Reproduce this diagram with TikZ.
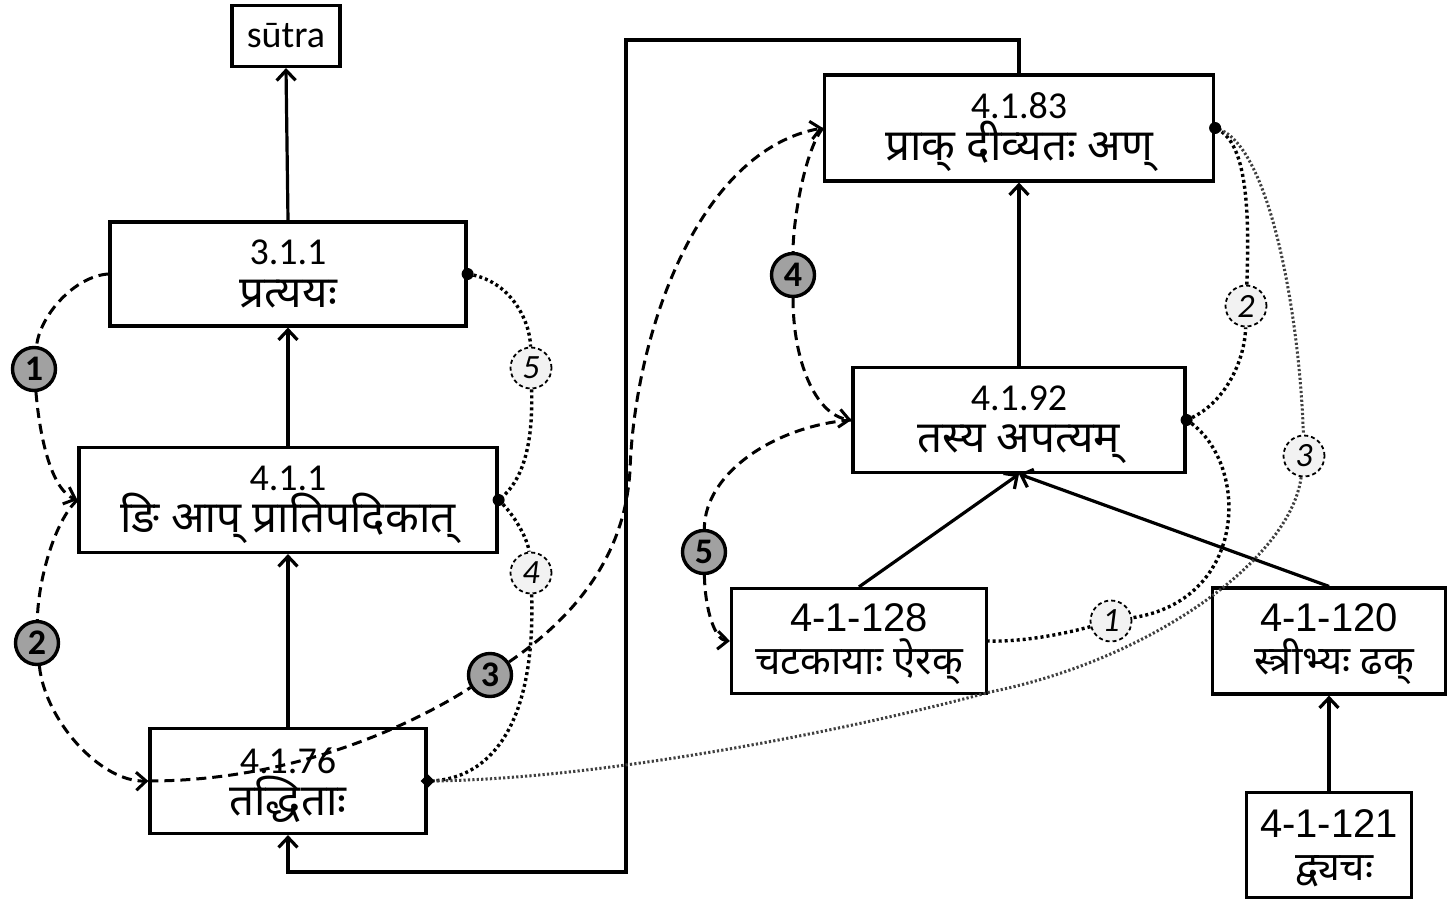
\documentclass[tikz,border=0pt]{standalone}
\usepackage{fontspec}
\setmainfont{Carlito}
\newfontfamily\dv[Script=Devanagari]{Noto Sans}
\newfontfamily\ar{Liberation Sans}
\usetikzlibrary{arrows.meta,shapes.geometric}
\pgfdeclarelayer{boxes}
\pgfdeclarelayer{lines}
\pgfsetlayers{boxes,lines,main}
\newcommand{\dvA}{\dv\fontsize{44}{46}\selectfont}
\newcommand{\dvB}{\dv\fontsize{40}{46}\selectfont}
\newcommand{\fixls}{\lineskiplimit-1000pt\relax}
\newcommand{\fntA}{\fontsize{38}{46}\selectfont\fixls}
\newcommand{\fntB}{\ar\fontsize{40}{46}\selectfont\fixls}
\newcommand{\up}{\rule{0pt}{34pt}}
\tikzset{
  rbox/.style={draw, line width=3.2pt, fill=white, align=center, inner sep=0pt,
    font=\fntA},
  abox/.style={rbox, font=\fntB},
  sarr/.style={line width=3.2pt, -{Straight Barb[length=10pt,width=19pt]}},
  dsh/.style={line width=3pt, dash pattern=on 10pt off 6pt},
  darr/.style={dsh, -{Straight Barb[length=10pt,width=18pt]}},
  dotl/.style={line width=3.4pt, dash pattern=on 3pt off 3pt},
  thdot/.style={line width=3pt, black!75, dash pattern=on 2.2pt off 2.2pt},
  gcirc/.style={circle, draw, line width=3.4pt, fill=black!37, minimum size=43pt, inner sep=0pt,
    font=\bfseries\fontsize{36}{36}\selectfont},
  dcirc/.style={circle, draw, line width=1.8pt, dash pattern=on 4pt off 3pt, fill=black!5,
    minimum size=41pt, inner sep=0pt, font=\itshape\fontsize{34}{34}\selectfont},
  mdot/.style={circle, fill, inner sep=0pt, minimum size=12pt},
  mdia/.style={diamond, fill, inner sep=0pt, minimum size=14pt},
}
\begin{document}
\begin{tikzpicture}[x=1pt,y=-1pt]
\useasboundingbox (0,0) rectangle (1454,915);
\begin{pgfonlayer}{boxes}
\node[rbox, minimum width=108pt, minimum height=61pt] (bsut) at (286,36) {s\=utra};
\node[rbox, minimum width=356pt, minimum height=104pt] (b311) at (288,274) {3.1.1\\[-3pt]{\dvA प्रत्ययः}};
\node[rbox, minimum width=418pt, minimum height=105pt] (b411) at (288,500) {\up 4.1.1\\[-4pt]{\dvA ङि आप् प्रातिपदिकात्}};
\node[rbox, minimum width=276pt, minimum height=105pt] (b4176) at (288,781) {\up 4.1.76\\[-4pt]{\dvA तद्धिताः}};
\node[rbox, minimum width=389pt, minimum height=106pt] (b483) at (1019,128) {\up 4.1.83\\[-4pt]{\dvA प्राक्  दीव्यतः  अण्}};
\node[rbox, minimum width=332pt, minimum height=105pt] (b492) at (1019,420) {\up 4.1.92\\[-4pt]{\dvA तस्य  अपत्यम्}};
\node[abox, minimum width=255pt, minimum height=105pt] (b128) at (859,641) {\up 4-1-128\\[-3pt]{\dvB चटकायाः ऐरक्}};
\node[abox, minimum width=233pt, minimum height=106pt] (b120) at (1329,641) {\up 4-1-120\\[-3pt]{\dvB \ स्त्रीभ्यः ढक्}};
\node[abox, minimum width=165pt, minimum height=105pt] (b121) at (1329,845) {\up 4-1-121\\[-3pt]{\dvB \ द्व्यचः}};
\end{pgfonlayer}
\coordinate (k1) at (626,40);
\coordinate (k2) at (626,872);
\coordinate (j3) at (630,470);
\coordinate (j3b) at (990,692);
% circle nodes
\node[gcirc] (c1) at (34,369) {1};
\node[gcirc] (c2) at (37,643) {2};
\node[gcirc] (c3) at (490,675) {3};
\node[gcirc] (c4) at (793,275) {4};
\node[gcirc] (c5) at (704,552) {5};
\node[dcirc] (d1) at (1111,621) {1};
\node[dcirc] (d2) at (1246,306) {2};
\node[dcirc] (d3) at (1304,456) {3};
\node[dcirc] (d4) at (531,573) {4};
\node[dcirc] (d5) at (531,368) {5};
\begin{pgfonlayer}{lines}
% solid arrows
\draw[sarr] (b311.north) -- (bsut.south);
\draw[sarr] (b411.north) -- (b311.south);
\draw[sarr] (b4176.north) -- (b411.south);
\draw[sarr] (b492.north) -- (b483.south);
\draw[sarr] (b128.north) -- (b492.south);
\draw[sarr] (b120.north) -- (b492.south);
\draw[sarr] (b121.north) -- (b120.south);
\draw[sarr] (b483.north) -- (b483.north |- k1) -- (k1) -- (k2) -- (k2 -| b4176.south) -- (b4176.south);
% dashed curves
\draw[dsh] (b311.west) .. controls (75,276) and (40,315) .. (c1);
\draw[darr] (c1) .. controls (40,440) and (52,490) .. (b411.west);
\draw[dsh] (b411.west) .. controls (55,520) and (38,580) .. (c2);
\draw[darr] (c2) .. controls (45,720) and (100,782) .. (b4176.west);
\draw[dsh] (b4176.west) .. controls (300,781) and (420,720) .. (c3);
\draw[darr] (c3) .. controls (570,620) and (625,560) .. (j3) .. controls (635,330) and (700,150) .. (b483.west);
\draw[dsh] (b483.west) .. controls (805,150) and (793,220) .. (c4);
\draw[darr] (c4) .. controls (793,360) and (815,415) .. (b492.west);
\draw[dsh] (b492.west) .. controls (780,425) and (705,470) .. (c5);
\draw[darr] (c5) .. controls (705,610) and (715,640) .. (b128.west);
% dotted curves
\draw[dotl] (b311.east) .. controls (510,280) and (530,320) .. (d5);
\draw[dotl] (d5) .. controls (533,440) and (525,480) .. (b411.east);
\draw[dotl] (b411.east) .. controls (515,515) and (528,540) .. (d4);
\draw[dotl] (d4) .. controls (536,740) and (480,781) .. (b4176.east);
\draw[dotl] (b492.east) .. controls (1225,405) and (1245,360) .. (d2);
\draw[dotl] (d2) .. controls (1250,200) and (1245,140) .. (b483.east);
\draw[dotl] (b492.east) .. controls (1250,460) and (1250,600) .. (d1);
\draw[dotl] (d1) .. controls (1060,635) and (1020,642) .. (b128.east);
\draw[thdot] (b483.east) .. controls (1270,140) and (1300,320) .. (d3);
\draw[thdot] (d3) .. controls (1290,560) and (1150,660) .. (j3b) .. controls (850,730) and (600,780) .. (b4176.east);
\end{pgfonlayer}
% markers
\node[mdot] (m311) at (b311.east) {};
\node[mdot] (m411) at (b411.east) {};
\node[mdot] (m483) at (b483.east) {};
\node[mdot] (m492) at (b492.east) {};
\node[mdia] (m4176) at (b4176.east) {};
\end{tikzpicture}
\end{document}
